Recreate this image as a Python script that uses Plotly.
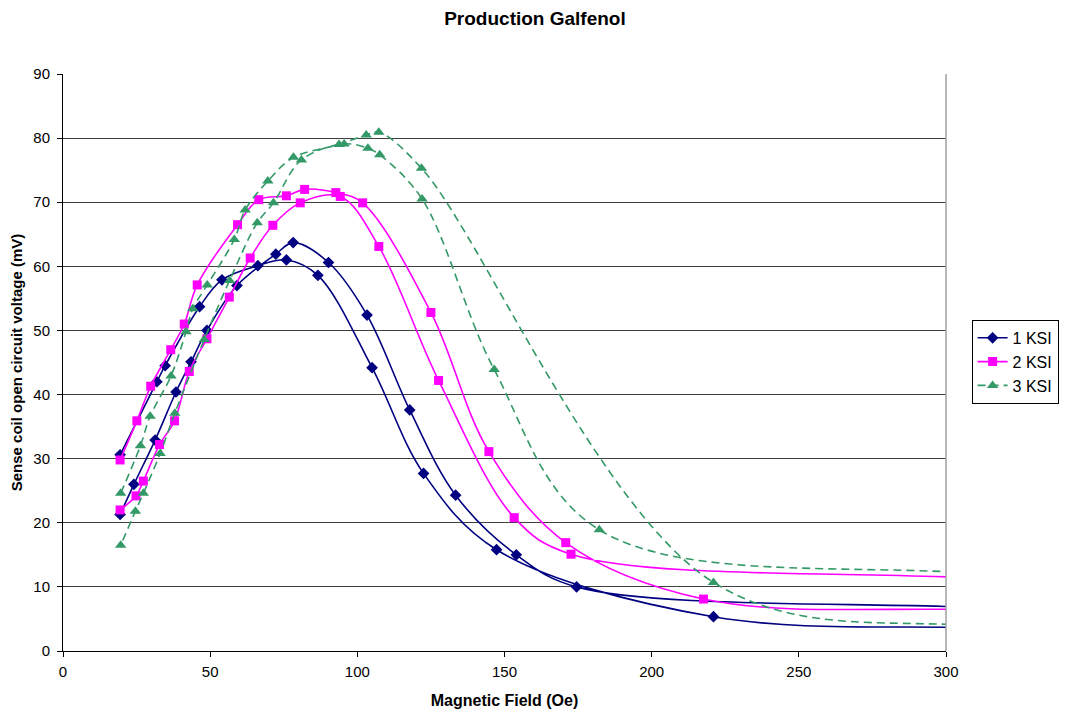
import plotly.graph_objects as go

# ---- data ----
# Each series is a hysteresis loop: rising on one branch, turning beyond x=300 (outside the view),
# and returning on the other branch.
ksi1_x = [19.4, 31.9, 34.7, 46.4, 54.0, 66.2, 75.9, 86.6, 105.0, 122.5, 147.3, 221.0, 320, 500,
          500, 320, 174.5, 154.0, 133.4, 117.8, 103.3, 90.2, 78.2, 72.3, 59.1, 48.9, 43.5, 38.4, 31.3, 24.1, 19.4]
ksi1_y = [30.6, 42.0, 44.5, 53.7, 57.9, 60.1, 61.0, 58.6, 44.2, 27.7, 15.8, 5.35, 3.55, 1.5,
          3.5, 6.65, 10.0, 15.0, 24.3, 37.6, 52.4, 60.6, 63.7, 61.9, 57.0, 50.0, 45.1, 40.4, 32.9, 26.0, 21.3]

ksi2_x = [19.4, 25.1, 29.8, 36.6, 41.2, 45.6, 59.3, 66.5, 75.9, 82.1, 92.7, 101.8, 125.0, 144.7, 170.8, 217.6, 320, 500,
          500, 320, 172.6, 153.3, 127.6, 107.3, 94.2, 80.6, 71.3, 63.6, 56.5, 48.9, 42.9, 37.9, 32.8, 27.3, 24.8, 19.4]
ksi2_y = [29.8, 35.9, 41.3, 47.0, 51.0, 57.1, 66.5, 70.4, 71.0, 72.0, 71.5, 69.9, 52.8, 31.1, 16.9, 8.1, 6.35, 3.5,
          7.0, 11.2, 15.1, 20.8, 42.2, 63.1, 70.9, 69.9, 66.4, 61.3, 55.2, 48.7, 43.6, 35.9, 32.2, 26.5, 24.2, 22.0]

ksi3_x = [19.6, 26.3, 29.6, 36.7, 41.8, 44.1, 49.0, 58.2, 61.9, 69.6, 78.3, 93.8, 103.0, 107.3, 121.8, 221.0, 320, 500,
          500, 320, 182.2, 146.5, 122.0, 107.6, 103.6, 95.5, 81.0, 71.5, 66.0, 56.6, 48.0, 38.0, 33.0, 27.3, 24.6, 19.6]
ksi3_y = [24.6, 32.0, 36.6, 42.9, 49.8, 53.4, 57.1, 64.2, 68.8, 73.3, 77.0, 79.0, 80.5, 80.9, 75.3, 10.7, 3.7, 2.0,
          6.0, 11.8, 18.9, 43.9, 70.5, 77.4, 78.4, 79.1, 76.6, 69.9, 66.8, 57.8, 48.6, 37.1, 30.8, 24.6, 21.8, 16.5]

series_names = ["1 KSI", "2 KSI", "3 KSI"]
x_ticks = [0, 50, 100, 150, 200, 250, 300]
y_ticks = [0, 10, 20, 30, 40, 50, 60, 70, 80, 90]

FONT = "Liberation Sans, Arial, sans-serif"

fig = go.Figure()
fig.add_trace(go.Scatter(
    x=ksi1_x, y=ksi1_y, name=series_names[0], mode="lines+markers", legendgroup="a",
    line=dict(color="#000080", width=1.6, shape="spline", smoothing=1),
    marker=dict(symbol="diamond", size=9, color="#000080")))
fig.add_trace(go.Scatter(
    x=ksi2_x, y=ksi2_y, name=series_names[1], mode="lines+markers", legendgroup="b",
    line=dict(color="#FF00FF", width=1.6, shape="spline", smoothing=1),
    marker=dict(symbol="square", size=9, color="#FF00FF")))
fig.add_trace(go.Scatter(
    x=ksi3_x, y=ksi3_y, name=series_names[2], mode="lines+markers", legendgroup="c",
    line=dict(color="#339966", width=1.6, shape="spline", smoothing=1, dash="8px,5px"),
    marker=dict(symbol="triangle-up", size=10, color="#339966")))

fig.update_layout(
    width=1070, height=707,
    paper_bgcolor="white", plot_bgcolor="white",
    margin=dict(l=55, r=132, t=66, b=64),
    font=dict(family=FONT, size=15, color="black"),
    title=dict(text="<b>Production Galfenol</b>", x=0.4925, xref="container", xanchor="center",
               y=0.986, yref="container", yanchor="middle", font=dict(size=19, family=FONT)),
    showlegend=True,
    legend=dict(x=1.029, xanchor="left", y=0.501, yanchor="middle",
                bordercolor="black", borderwidth=1, bgcolor="white",
                font=dict(size=16, family=FONT), itemwidth=30, tracegroupgap=0),
    xaxis=dict(range=[0, 300], tickvals=x_ticks, showgrid=False, zeroline=False,
               showline=True, linecolor="black", linewidth=1, automargin=False,
               ticks="outside", ticklen=5, tickcolor="black",
               tickfont=dict(size=15), ticklabelstandoff=2,
               title=dict(text="<b>Magnetic Field (Oe)</b>", font=dict(size=16), standoff=15)),
    yaxis=dict(range=[0, 90], tickvals=y_ticks, showgrid=True, gridcolor="#404040", gridwidth=1,
               zeroline=False, showline=True, linecolor="black", linewidth=1, automargin=False,
               ticks="outside", ticklen=5, tickcolor="black",
               tickfont=dict(size=15), ticklabelstandoff=4,
               title=dict(text="<b>Sense coil open circuit voltage (mV)</b>", font=dict(size=15), standoff=8)),
    shapes=[dict(type="line", xref="x domain", yref="y domain", x0=1, x1=1, y0=0, y1=1,
                 line=dict(color="#A0A0A0", width=1.5))],
)

fig.write_html("out.html")
